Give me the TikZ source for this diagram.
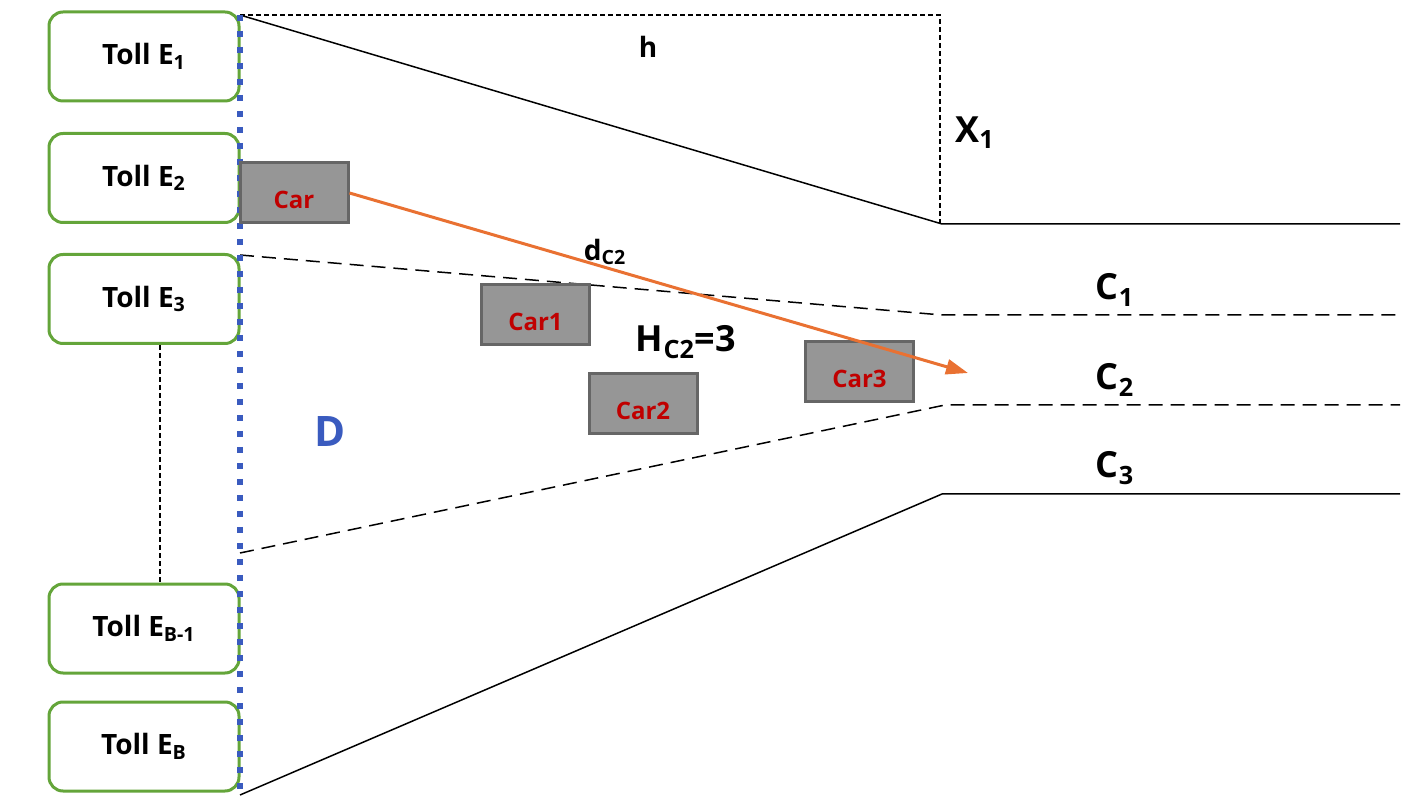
\documentclass[tikz,border=0pt]{standalone}
\usepackage{fontspec}
\setmainfont{Open Sans}
\usetikzlibrary{arrows.meta}

\definecolor{tollgreen}{RGB}{100,165,58}
\definecolor{dotblue}{RGB}{58,91,191}
\definecolor{carfill}{RGB}{150,150,150}
\definecolor{cargray}{RGB}{102,102,102}
\definecolor{carred}{RGB}{192,0,0}
\definecolor{pathorange}{RGB}{233,113,50}

\begin{document}
\begin{tikzpicture}[
    x=0.5pt, y=-0.5pt,
    toll node/.style={draw=tollgreen, line width=1.5pt, rounded corners=7pt, minimum width=95pt, minimum height=44.5pt, inner sep=1pt, font=\bfseries\fontsize{14}{16}\selectfont},
    car node/.style={draw=cargray, fill=carfill, line width=1.5pt, minimum width=54pt, minimum height=30pt, inner sep=1pt, text height=16pt, text depth=0.4pt, text=carred, font=\bfseries\fontsize{12}{14}\selectfont},
    lane label/.style={font=\bfseries\fontsize{18}{20}\selectfont},
    small label/.style={font=\bfseries\fontsize{14}{16}\selectfont},
    wall edge/.style={draw=black, line width=0.75pt},
    lane edge/.style={draw=black, line width=0.75pt, dash pattern=on 7pt off 4pt},
    guide edge/.style={draw=black, line width=0.7pt, dash pattern=on 2.5pt off 1.5pt},
    gate edge/.style={draw=dotblue, line width=3pt, dash pattern=on 3pt off 5pt},
    move edge/.style={draw=pathorange, line width=1.5pt, -{Triangle[length=11pt, width=7.5pt]}}
]
\useasboundingbox (0,0) rectangle (1402,806);

% toll booths on the left
\node[toll node] (E1)  at (144, 56.5)  {Toll E\textsubscript{1}};
\node[toll node] (E2)  at (144, 178)   {Toll E\textsubscript{2}};
\node[toll node] (E3)  at (144, 299)   {Toll E\textsubscript{3}};
\node[toll node] (EB1) at (144, 628.5) {Toll E\textsubscript{B-1}};
\node[toll node] (EB)  at (144, 746.5) {Toll E\textsubscript{B}};
\draw[guide edge] ([xshift=8pt]E3.south) -- ([xshift=8pt]EB1.north);

% corner points of the merge area
\coordinate (T0)  at (240, 15);
\coordinate (T1)  at (940, 15);
\coordinate (W1)  at (942, 224);
\coordinate (W1e) at (1400, 224);
\coordinate (L1a) at (240, 255);
\coordinate (L1b) at (942, 315);
\coordinate (L1e) at (1400, 315);
\coordinate (L2a) at (240, 553);
\coordinate (L2b) at (945, 405);
\coordinate (L2e) at (1400, 405);
\coordinate (W2a) at (240, 795);
\coordinate (W2b) at (942, 494);
\coordinate (W2e) at (1400, 494);
\coordinate (P)   at (968, 373);

% outer walls and lane lines
\draw[wall edge] (T0) -- (W1) -- (W1e);
\draw[wall edge] (W2a) -- (W2b) -- (W2e);
\draw[lane edge] (L1a) -- (L1b) -- (L1e);
\draw[lane edge] (L2a) -- (L2b) -- (L2e);
\draw[guide edge] (T0) -- (T1) -- (T1 |- W1);

% boundary of area D
\draw[gate edge] (T0) -- (W2a);

% cars
\node[car node] (C0) at (294, 193)     {Car};
\node[car node] (C1) at (535.5, 314.5) {Car1};
\node[car node] (C2) at (643, 403.5)   {Car2};
\node[car node] (C3) at (859.5, 372)   {Car3};
\draw[move edge] (C0.east) -- (P);

% labels
\node[small label] (h)   at (648, 47)  {h};
\node[lane label]  (X1)  at (975, 133) {X\textsubscript{1}};
\node[small label] (dC2) at (605, 252) {d\textsubscript{C2}};
\node[lane label]  (HC2) at (686, 342) {H\textsubscript{C2}=3};
\node[lane label]  (La1) at (1115, 290) {C\textsubscript{1}};
\node[lane label]  (La2) at (1115, 380) {C\textsubscript{2}};
\node[lane label]  (La3) at (1115, 468) {C\textsubscript{3}};
\node[lane label, text=dotblue, font=\bfseries\fontsize{21}{24}\selectfont] (D) at (330, 432) {D};

\end{tikzpicture}
\end{document}
